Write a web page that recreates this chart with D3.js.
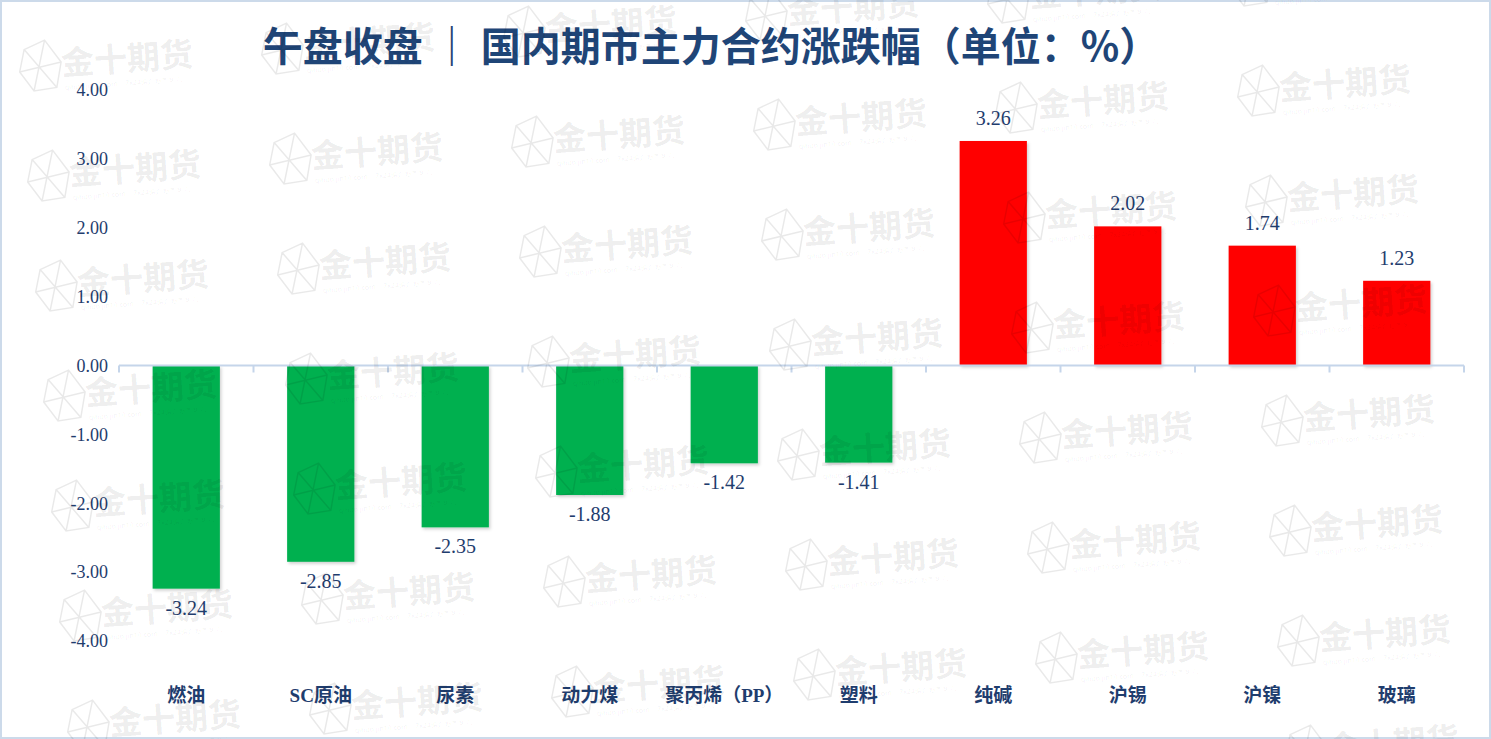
<!DOCTYPE html>
<html>
<head>
<meta charset="utf-8">
<script src="https://cdn.jsdelivr.net/npm/d3@7/dist/d3.min.js"></script>
<style>
  html, body { margin: 0; padding: 0; background: #fff; }
  svg { display: block; }
</style>
</head>
<body>
<svg id="chart" width="1491" height="739"></svg>
<script>
// données
const categories = ["燃油", "SC原油", "尿素", "动力煤", "聚丙烯（PP）", "塑料", "纯碱", "沪锡", "沪镍", "玻璃"];
const values = [-3.24, -2.85, -2.35, -1.88, -1.42, -1.41, 3.26, 2.02, 1.74, 1.23];
const yTicks = [4, 3, 2, 1, 0, -1, -2, -3, -4];
const titleText = "午盘收盘 ｜ 国内期市主力合约涨跌幅（单位：%）";

const width = 1491, height = 739;
const textColor = "#1f3d6e";
const axisColor = "#c5d5ea";
const serif = "'Liberation Serif', 'Noto Sans CJK SC', serif";
const fmt = d3.formatLocale({ decimal: ".", thousands: ",", grouping: [3], currency: ["", ""], minus: "-" }).format(".2f");

const svg = d3.select("#chart");

// bordure
svg.append("rect")
  .attr("x", 1).attr("y", 1)
  .attr("width", width - 2).attr("height", height - 2)
  .attr("fill", "none")
  .attr("stroke", "#ccdaea")
  .attr("stroke-width", 2);

// ombre légère des barres
const defs = svg.append("defs");
const shadow = defs.append("filter").attr("id", "shadow").attr("x", "-10%").attr("y", "-10%").attr("width", "130%").attr("height", "130%");
shadow.append("feDropShadow")
  .attr("dx", 1.5).attr("dy", 2).attr("stdDeviation", 1.5)
  .attr("flood-color", "#000").attr("flood-opacity", 0.18);

const x = d3.scaleBand()
  .domain(categories)
  .range([119, 1464])
  .paddingInner(0.5)
  .paddingOuter(0.25);

const y = d3.scaleLinear()
  .domain([-4, 4])
  .range([641, 90]);

// titre
svg.append("text")
  .attr("x", 711)
  .attr("y", 61)
  .attr("text-anchor", "middle")
  .attr("font-family", "'Noto Sans CJK SC', sans-serif")
  .attr("font-weight", 700)
  .attr("font-size", 40)
  .attr("fill", "#1f4577")
  .text(titleText);

// axe Y (labels seulement)
svg.append("g")
  .selectAll("text")
  .data(yTicks)
  .join("text")
  .attr("x", 108)
  .attr("y", d => y(d))
  .attr("dy", "0.35em")
  .attr("text-anchor", "end")
  .attr("font-family", serif)
  .attr("font-size", 18)
  .attr("fill", textColor)
  .text(d => fmt(d));

// barres
svg.append("g")
  .selectAll("rect")
  .data(categories)
  .join("rect")
  .attr("x", d => x(d))
  .attr("width", x.bandwidth())
  .attr("y", (d, i) => Math.min(y(0), y(values[i])))
  .attr("height", (d, i) => Math.abs(y(values[i]) - y(0)))
  .attr("fill", (d, i) => values[i] < 0 ? "#00b050" : "#ff0000")
  .attr("filter", "url(#shadow)");

// axe X : ligne du zéro avec graduations entre catégories
const step = x.step();
const x0 = x.range()[0];
const axis = svg.append("g").attr("stroke", axisColor).attr("stroke-width", 2);
axis.append("line")
  .attr("x1", x0).attr("x2", x.range()[1])
  .attr("y1", y(0)).attr("y2", y(0));
axis.selectAll("line.tick")
  .data(d3.range(categories.length + 1))
  .join("line")
  .attr("class", "tick")
  .attr("x1", d => x0 + d * step).attr("x2", d => x0 + d * step)
  .attr("y1", y(0)).attr("y2", y(0) + 7);

// étiquettes des valeurs
svg.append("g")
  .selectAll("text")
  .data(categories)
  .join("text")
  .attr("x", d => x(d) + x.bandwidth() / 2)
  .attr("y", (d, i) => values[i] < 0 ? y(values[i]) + 26 : y(values[i]) - 16)
  .attr("text-anchor", "middle")
  .attr("font-family", serif)
  .attr("font-size", 20)
  .attr("fill", textColor)
  .text((d, i) => fmt(values[i]));

// étiquettes des catégories
svg.append("g")
  .selectAll("text")
  .data(categories)
  .join("text")
  .attr("x", d => x(d) + x.bandwidth() / 2)
  .attr("y", 702)
  .attr("text-anchor", "middle")
  .attr("font-family", serif)
  .attr("font-weight", 700)
  .attr("font-size", 19)
  .attr("fill", textColor)
  .text(d => d);

// filigrane semi-transparent par-dessus
const wm = svg.append("g")
  .attr("fill", "#000")
  .attr("fill-opacity", 0.085)
  .style("pointer-events", "none");

for (let c = 0; c < 7; c++) {
  for (let r = -1; r < 8; r++) {
    const tx = 62 + c * 242 + r * 8;
    const ty = 75 - c * 17 + r * 110;
    if (tx > width - 20 || ty < -10 || ty - 30 > height) continue;
    const g = wm.append("g").attr("transform", `translate(${tx},${ty}) rotate(-4)`);
    g.append("path")
      .attr("d", "M-36,-28 L-15,-36 L0,-13 L-6,12 L-29,14 L-42,-6 Z M-15,-36 L-29,14 M-42,-6 L0,-13 M-36,-28 L-6,12")
      .attr("fill", "none")
      .attr("stroke", "#000")
      .attr("stroke-opacity", 0.085)
      .attr("stroke-width", 1.5);
    g.append("text")
      .attr("x", 0)
      .attr("y", 0)
      .attr("font-family", "'Noto Sans CJK SC', sans-serif")
      .attr("font-weight", 700)
      .attr("font-size", 33)
      .text("金十期货");
    g.append("text")
      .attr("x", 2)
      .attr("y", 15)
      .attr("font-family", "'Noto Sans', sans-serif")
      .attr("font-size", 7)
      .attr("fill-opacity", 0.06)
      .text("qihuo.jin10.com | 7x24追踪期市热点");
  }
}
</script>
</body>
</html>
